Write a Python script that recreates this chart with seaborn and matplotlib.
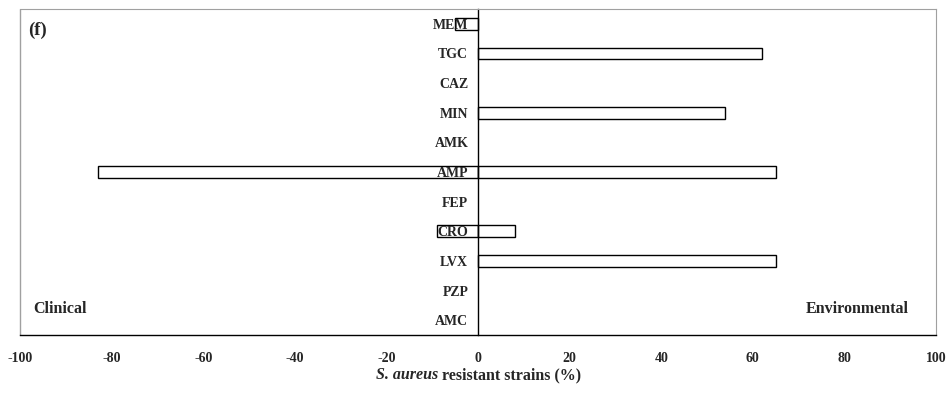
import matplotlib
matplotlib.use("Agg")
import matplotlib.pyplot as plt
import seaborn as sns
import pandas as pd
from matplotlib.patches import Rectangle
from matplotlib.offsetbox import TextArea, HPacker, AnnotationBbox

drugs = ["MEM", "TGC", "CAZ", "MIN", "AMK", "AMP", "FEP", "CRO", "LVX", "PZP", "AMC"]
clinical = [-5, 0, 0, 0, 0, -83, 0, -9, 0, 0, 0]
environmental = [0, 62, 0, 54, 0, 65, 0, 8, 65, 0, 0]
xticks = [-100, -80, -60, -40, -20, 0, 20, 40, 60, 80, 100]

sns.set_style("white")
plt.rcParams["font.family"] = ["Liberation Serif", "DejaVu Serif"]

df = pd.DataFrame({
    "drug": drugs * 2,
    "value": clinical + environmental,
    "side": ["Clinical"] * len(drugs) + ["Environmental"] * len(drugs),
})

fig = plt.figure(figsize=(9.52, 3.96), dpi=100)
ax = fig.add_axes([20 / 952, 1 - 335 / 396, (936 - 20) / 952, (335 - 9) / 396])

sns.barplot(data=df, x="value", y="drug", hue="side", order=drugs, dodge=False,
            width=0.4, palette={"Clinical": "white", "Environmental": "white"},
            edgecolor="black", linewidth=1.0, legend=False, ax=ax)
for p in ax.patches:
    p.set_zorder(1.5)
    if p.get_width() == 0:
        p.set_linewidth(0)
ax.set_axisbelow(False)

ax.set_xlim(-100, 100)
ax.set_ylim(len(drugs) - 0.5, -0.5)
ax.set_xticks(xticks)
ax.set_xticklabels([str(t) for t in xticks], fontsize=10, fontweight="bold")
ax.tick_params(axis="x", direction="inout", length=6, width=1, color="black", pad=9)

# y axis (category labels) sits at zero
ax.spines["left"].set_position(("data", 0))
ax.spines["left"].set_color("black")
ax.spines["left"].set_linewidth(1.0)
ax.tick_params(axis="y", length=0, pad=7)
for lab in ax.get_yticklabels():
    lab.set_fontsize(10)
    lab.set_fontweight("bold")
ax.set_ylabel("")
ax.set_xlabel("")

ax.spines["bottom"].set_color("black")
ax.spines["bottom"].set_linewidth(1.0)
ax.spines["top"].set_color("#a0a0a0")
ax.spines["right"].set_color("#a0a0a0")
ax.add_patch(Rectangle((0, 0), 0, 1, transform=ax.transAxes, fill=False,
                       edgecolor="#a0a0a0", linewidth=1.0, clip_on=False, zorder=1))

# x label with italic species name
t1 = TextArea("S. aureus", textprops=dict(fontsize=11.5, fontweight="bold", fontstyle="italic"))
t2 = TextArea(" resistant strains (%)", textprops=dict(fontsize=11.5, fontweight="bold"))
box = HPacker(children=[t1, t2], align="baseline", pad=0, sep=0)
ab = AnnotationBbox(box, (478.5 / 952, 1 - 375 / 396), xycoords="figure fraction",
                    box_alignment=(0.5, 0.5), frameon=False, pad=0)
fig.add_artist(ab)

ax.text(13 / 916, 0.08, "Clinical", transform=ax.transAxes, fontsize=11.5,
        fontweight="bold", ha="left", va="center")
ax.text(889 / 916, 0.08, "Environmental", transform=ax.transAxes, fontsize=11.5,
        fontweight="bold", ha="right", va="center")
ax.text(8 / 916, 0.935, "(f)", transform=ax.transAxes, fontsize=13.5,
        fontweight="bold", ha="left", va="center")

fig.savefig("out.png", dpi=100)
